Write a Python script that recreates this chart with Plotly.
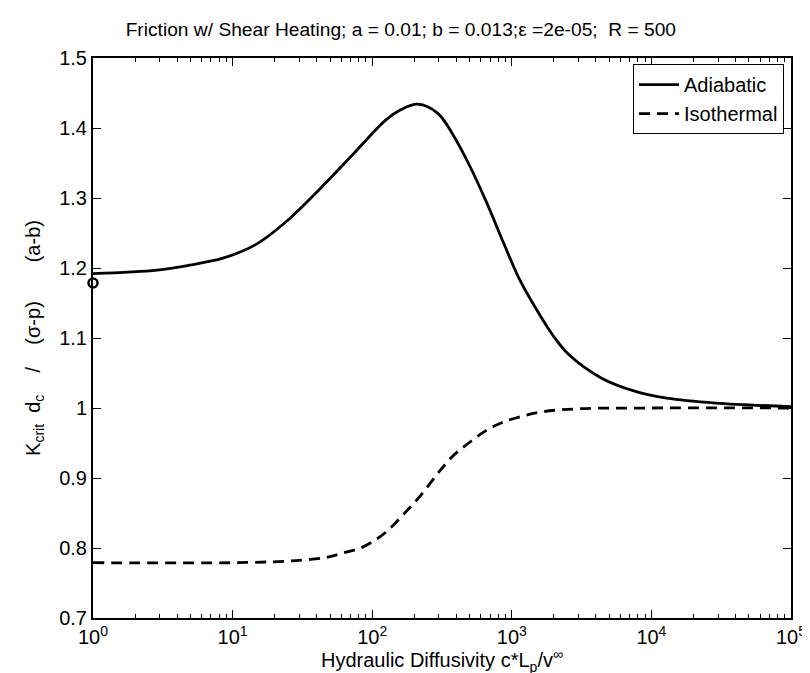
import plotly.graph_objects as go

# Adiabatic curve
adi_x = [1, 2.88, 4.9, 8.5, 14.5, 25.1, 42.7, 74.1, 126, 160, 212, 295, 380, 502,
         662, 872, 1122, 1480, 1950, 2570, 4370, 7590, 12890, 28840, 100000]
adi_y = [1.192, 1.197, 1.204, 1.214, 1.233, 1.269, 1.314, 1.364, 1.412, 1.426, 1.434,
         1.421, 1.390, 1.345, 1.293, 1.236, 1.186, 1.143, 1.105, 1.076, 1.043, 1.024,
         1.014, 1.007, 1.002]

# Isothermal curve
iso_x = [1, 10, 23.7, 32.8, 45.4, 59.6, 82.4, 108, 131, 171, 218, 302, 385, 492,
         644, 845, 1170, 1710, 3090, 10000, 100000]
iso_y = [0.779, 0.779, 0.781, 0.783, 0.786, 0.792, 0.800, 0.813, 0.826, 0.850, 0.873,
         0.909, 0.933, 0.950, 0.967, 0.979, 0.988, 0.995, 0.999, 1.0, 1.0]

# Marker point
pt_x = [1]
pt_y = [1.1786]

x_tickvals = [1, 10, 100, 1000, 10000, 100000]
x_ticktext = ["10<sup>0</sup>", "10<sup>1</sup>", "10<sup>2</sup>", "10<sup>3</sup>",
              "10<sup>4</sup>", "10<sup>5</sup>"]
y_tickvals = [0.7, 0.8, 0.9, 1.0, 1.1, 1.2, 1.3, 1.4, 1.5]
y_ticktext = ["0.7", "0.8", "0.9", "1", "1.1", "1.2", "1.3", "1.4", "1.5"]

FONT = "Liberation Sans, Arial, Helvetica, sans-serif"
NB = "\u00a0"

ylabel = ("K<sub>crit</sub>" + NB * 2 + "d<sub>c</sub>" + NB * 4 + "/" + NB * 4 +
          "(σ-p)" + NB * 7 + "(a-b)")
xlabel = "Hydraulic Diffusivity c*L<sub>p</sub>/v<sup>∞</sup>"

fig = go.Figure()
fig.add_trace(go.Scatter(x=adi_x, y=adi_y, mode="lines", name="Adiabatic",
                         line=dict(color="black", width=2.8, shape="spline", smoothing=1.0)))
fig.add_trace(go.Scatter(x=iso_x, y=iso_y, mode="lines", name="Isothermal",
                         line=dict(color="black", width=2.8, dash="11px,7px", shape="spline", smoothing=1.0)))
fig.add_trace(go.Scatter(x=pt_x, y=pt_y, mode="markers", showlegend=False, cliponaxis=False,
                         marker=dict(symbol="circle-open", size=9, color="black",
                                     line=dict(width=2.5, color="black"))))

fig.update_layout(
    width=810, height=673,
    paper_bgcolor="white", plot_bgcolor="white",
    margin=dict(l=85, r=16, t=50, b=63),
    font=dict(family=FONT, color="black", size=20),
    title=dict(text="Friction w/ Shear Heating; a = 0.01; b = 0.013;ε =2e-05;  R = 500",
               x=0.485, xanchor="center", y=0.969, yanchor="middle",
               font=dict(size=19.2, family=FONT)),
    showlegend=True,
    legend=dict(x=0.990, y=0.989, xanchor="right", yanchor="top",
                bgcolor="white", bordercolor="black", borderwidth=1,
                font=dict(size=20, family=FONT), tracegroupgap=0,
                itemwidth=40),
    annotations=[dict(text=xlabel, xref="paper", yref="paper", x=0.5, y=-0.106,
                      xanchor="center", yanchor="bottom", showarrow=False,
                      font=dict(size=20, family=FONT, color="black"))],
)

fig.update_xaxes(type="log", range=[0, 5], tickvals=x_tickvals, ticktext=x_ticktext,
                 ticks="inside", ticklen=8, tickwidth=1, tickcolor="black",
                 showline=True, linecolor="black", linewidth=2, mirror="allticks",
                 showgrid=False, zeroline=False,
                 minor=dict(ticks="inside", ticklen=4, tickcolor="black", showgrid=False,
                            dtick="D1"),
                 tickfont=dict(size=20))
fig.update_yaxes(range=[0.7, 1.5], tickvals=y_tickvals, ticktext=y_ticktext,
                 ticks="inside", ticklen=8, tickwidth=1, tickcolor="black",
                 showline=True, linecolor="black", linewidth=2, mirror="allticks",
                 showgrid=False, zeroline=False,
                 tickfont=dict(size=20),
                 title=dict(text=ylabel, font=dict(size=20), standoff=13))

fig.write_html("out.html")
